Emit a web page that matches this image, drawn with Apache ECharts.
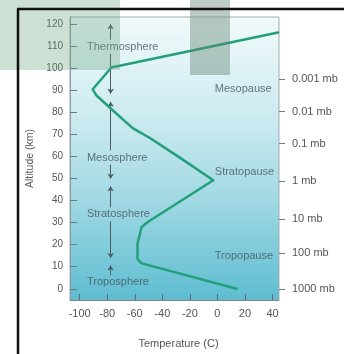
<!DOCTYPE html>
<html>
<head>
<meta charset="utf-8">
<script src="https://cdn.jsdelivr.net/npm/echarts@6/dist/echarts.min.js"></script>
<style>
html,body{margin:0;padding:0;background:#fff;}
#chart{width:344px;height:354px;}
</style>
</head>
<body>
<div id="chart"></div>
<script>
// ---- data ----
const altitudeTicks = [0, 10, 20, 30, 40, 50, 60, 70, 80, 90, 100, 110, 120];
const temperatureTicks = [-100, -80, -60, -40, -20, 0, 20, 40];
const pressureAltitudes = [0, 16.3, 31.6, 48.7, 65.9, 80.4, 95.2];
const pressureLabels = ['1000 mb', '100 mb', '10 mb', '1 mb', '0.1 mb', '0.01 mb', '0.001 mb'];

const profileTemperature = [14, -55, -58, -58, -55, -50, -3, -27.3, -49, -61.5, -76, -88, -90.5, -77, 44];
const profileAltitude    = [0, 11.5, 13.5, 20.5, 28, 30.5, 49.2, 59.5, 68.4, 72.9, 81, 87.8, 90.5, 100.4, 116.3];

const layerNames = ['Thermosphere', 'Mesosphere', 'Stratosphere', 'Troposphere'];
const layerLabelAltitude = [109.8, 59.5, 33.8, 2.9];
const layerTop = [120, 84.8, 46.5, 10.6];
const layerBottom = [88.5, 49.9, 14, 0];
const layerArrowTemperature = -77.5;
const layerLabelTemperature = -94.7;

const pauseNames = ['Mesopause', 'Stratopause', 'Tropopause'];
const pauseAltitude = [90.5, 52.9, 15.1];
const pauseLabelTemperature = -1.9;

// ---- build ----
const labelGap = 3.2;
const arrowSegments = [];
layerNames.forEach((n, i) => {
  const up = layerLabelAltitude[i] + labelGap;
  const down = layerLabelAltitude[i] - labelGap;
  if (layerTop[i] > up) arrowSegments.push({coords: [[layerArrowTemperature, up], [layerArrowTemperature, layerTop[i]]]});
  if (layerBottom[i] < down) arrowSegments.push({coords: [[layerArrowTemperature, down], [layerArrowTemperature, layerBottom[i]]]});
});

const chart = echarts.init(document.getElementById('chart'), null, {renderer: 'canvas'});
const font = 'Liberation Sans, Arial, sans-serif';

chart.setOption({
  animation: false,
  grid: {
    left: 70, top: 17, right: 65, bottom: 49,
    show: true,
    borderColor: '#a3adb0',
    borderWidth: 1,
    backgroundColor: new echarts.graphic.LinearGradient(0, 0, 0, 1, [
      {offset: 0, color: '#f2fafb'},
      {offset: 0.35, color: '#cdebf0'},
      {offset: 0.65, color: '#a0d8e3'},
      {offset: 1, color: '#5dbdd1'}
    ])
  },
  xAxis: {
    type: 'value',
    min: -107, max: 44.7,
    name: 'Temperature (C)',
    nameLocation: 'middle',
    nameGap: 38,
    nameTextStyle: {color: '#555', fontSize: 11, fontFamily: font, padding: [0, 0, 0, 8]},
    axisLine: {show: true, onZero: false, lineStyle: {color: '#6e8c94', width: 1}},
    axisTick: {show: true, inside: true, length: 6, customValues: temperatureTicks, lineStyle: {color: '#5a6d72'}},
    axisLabel: {customValues: temperatureTicks, color: '#555', fontSize: 11, fontFamily: font, margin: 8},
    splitLine: {show: false}
  },
  yAxis: [{
    type: 'value',
    min: -5.1, max: 123.3,
    name: 'Altitude (km)',
    nameLocation: 'middle',
    nameRotate: 90,
    nameGap: 33,
    nameTextStyle: {color: '#555', fontSize: 10.5, fontFamily: font},
    axisLine: {show: true, onZero: false, lineStyle: {color: '#8a9a9e'}},
    axisTick: {show: true, inside: true, length: 7, customValues: altitudeTicks, lineStyle: {color: '#6b7b80'}},
    axisLabel: {customValues: altitudeTicks, color: '#555', fontSize: 10, fontFamily: font, margin: 7},
    splitLine: {show: false}
  }, {
    type: 'value',
    position: 'right',
    min: -5.1, max: 123.3,
    axisLine: {show: false, onZero: false},
    axisTick: {show: true, inside: false, length: 6, customValues: pressureAltitudes, lineStyle: {color: '#6b7b80'}},
    axisLabel: {
      customValues: pressureAltitudes,
      formatter: v => {
        const i = pressureAltitudes.indexOf(v);
        return i >= 0 ? pressureLabels[i] : '';
      },
      color: '#555', fontSize: 11, fontFamily: font, margin: 13
    },
    splitLine: {show: false}
  }],
  series: [{
    type: 'lines',
    coordinateSystem: 'cartesian2d',
    symbol: ['none', 'arrow'],
    symbolSize: 5,
    lineStyle: {color: '#4d5c62', width: 1, opacity: 1},
    data: arrowSegments,
    z: 3
  }, {
    type: 'line',
    data: profileTemperature.map((t, i) => [t, profileAltitude[i]]),
    showSymbol: false,
    symbol: 'none',
    lineStyle: {color: '#22a07a', width: 2.5, join: 'round', cap: 'round'},
    clip: true,
    z: 4
  }, {
    type: 'scatter',
    symbolSize: 0,
    data: layerNames.map((n, i) => ({value: [layerLabelTemperature, layerLabelAltitude[i]], name: n})),
    label: {show: true, position: 'right', distance: 0, formatter: p => p.name, color: '#45555e', fontSize: 11, fontFamily: font},
    z: 5
  }, {
    type: 'scatter',
    symbolSize: 0,
    data: pauseNames.map((n, i) => ({value: [pauseLabelTemperature, pauseAltitude[i]], name: n})),
    label: {show: true, position: 'right', distance: 0, formatter: p => p.name, color: '#45555e', fontSize: 11, fontFamily: font},
    z: 5
  }],
  graphic: [
    {type: 'rect', shape: {x: 0, y: 0, width: 120, height: 70}, style: {fill: 'rgba(100,160,125,0.33)'}, z: 100, silent: true},
    {type: 'rect', shape: {x: 190, y: 0, width: 40, height: 75}, style: {fill: 'rgba(95,130,115,0.42)'}, z: 100, silent: true},
    {type: 'line', shape: {x1: 18, y1: 9, x2: 18, y2: 354}, style: {stroke: '#111', lineWidth: 2.5}, z: 101},
    {type: 'line', shape: {x1: 17, y1: 9, x2: 344, y2: 9}, style: {stroke: '#111', lineWidth: 2.5}, z: 101}
  ]
});
</script>
</body>
</html>
